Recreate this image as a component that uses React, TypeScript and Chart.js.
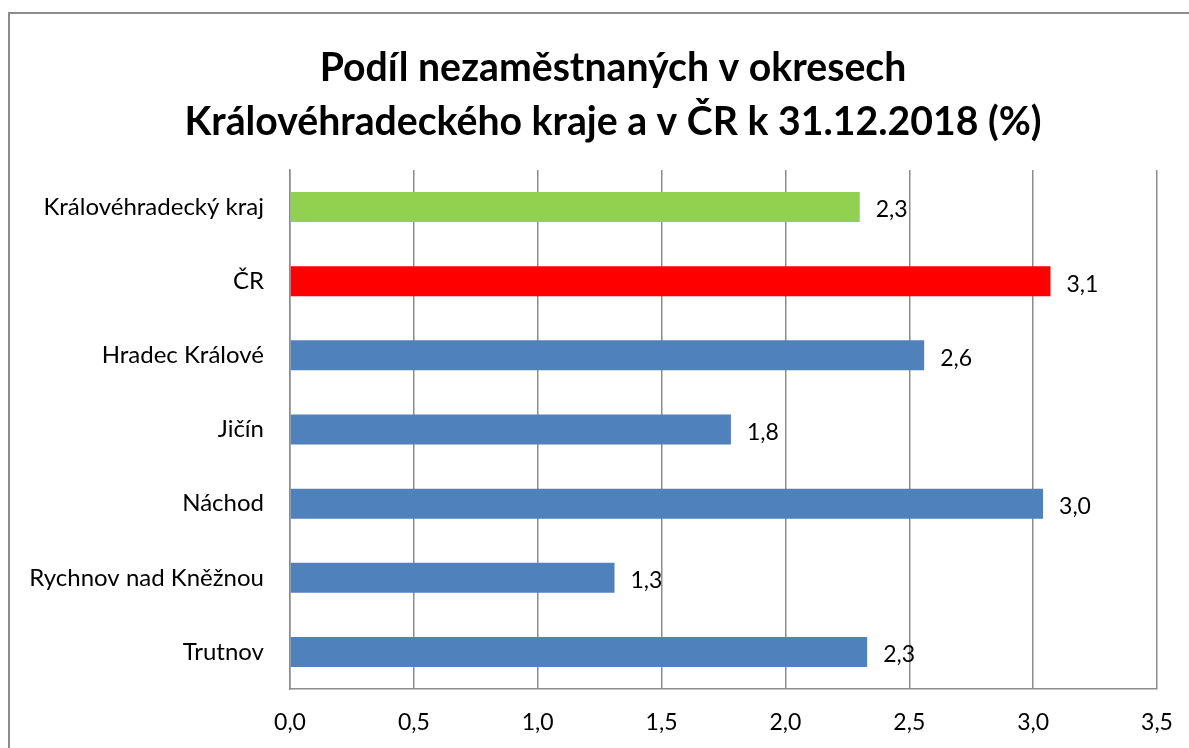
import React, { useEffect, useRef } from "react";
import { Chart, registerables } from "chart.js";

Chart.register(...registerables);

const titleLines = ["Podíl nezaměstnaných v okresech", "Královéhradeckého kraje a v ČR k 31.12.2018 (%)"];
const categories = [
  "Královéhradecký kraj",
  "ČR",
  "Hradec Králové",
  "Jičín",
  "Náchod",
  "Rychnov nad Kněžnou",
  "Trutnov",
];
const values = [2.3, 3.07, 2.56, 1.78, 3.04, 1.31, 2.33];
const barColors = ["#92D050", "#FF0000", "#4F81BD", "#4F81BD", "#4F81BD", "#4F81BD", "#4F81BD"];
const xMin = 0;
const xMax = 3.5;
const xStep = 0.5;

const FONT = "Lato, 'Open Sans', sans-serif";
const fmt = (v: number) => v.toFixed(1).replace(".", ",");

const titlePlugin = {
  id: "customTitle",
  afterDraw(chart: any) {
    const ctx = chart.ctx;
    ctx.save();
    ctx.fillStyle = "#000";
    ctx.font = `bold 39.2px ${FONT}`;
    ctx.textAlign = "center";
    ctx.textBaseline = "middle";
    ctx.fillText(titleLines[0], 613, 68);
    ctx.fillText(titleLines[1], 613, 122);
    ctx.restore();
  },
};

const labelPlugin = {
  id: "valueLabels",
  afterDatasetsDraw(chart: any) {
    const ctx = chart.ctx;
    const meta = chart.getDatasetMeta(0);
    ctx.save();
    ctx.fillStyle = "#000";
    ctx.font = `23px ${FONT}`;
    ctx.textAlign = "left";
    ctx.textBaseline = "middle";
    meta.data.forEach((bar: any, i: number) => {
      ctx.fillText(fmt(values[i]), bar.x + 16, bar.y + 3);
    });
    ctx.restore();
  },
};

export default function App() {
  const ref = useRef<HTMLCanvasElement | null>(null);
  useEffect(() => {
    if (!ref.current) return;
    const chart = new Chart(ref.current, {
      type: "bar",
      data: {
        labels: categories,
        datasets: [
          {
            data: values,
            backgroundColor: barColors,
            borderWidth: 0,
            categoryPercentage: 1,
            barPercentage: 0.405,
          },
        ],
      },
      options: {
        indexAxis: "y",
        responsive: false,
        animation: false,
        devicePixelRatio: 1,
        layout: { padding: { top: 170, right: 32, left: 0, bottom: 0 } },
        plugins: { legend: { display: false }, tooltip: { enabled: false }, title: { display: false } },
        scales: {
          x: {
            min: xMin,
            max: xMax,
            ticks: {
              stepSize: xStep,
              color: "#000",
              font: { family: FONT, size: 23 },
              padding: 20,
              callback: (v: any) => fmt(Number(v)),
            },
            grid: { color: "#8c8c8c", lineWidth: 1.5, drawTicks: false },
            border: { display: true, color: "#8c8c8c", width: 1.5 },
            afterFit: (s: any) => {
              s.height = 59;
              s.paddingLeft = 0;
              s.paddingRight = 0;
            },
          },
          y: {
            ticks: { color: "#000", font: { family: FONT, size: 24 }, padding: 26 },
            grid: { display: false, drawTicks: false },
            border: { display: true, color: "#8c8c8c", width: 1.5 },
            afterFit: (s: any) => {
              s.width = 290;
              s.paddingTop = 0;
              s.paddingBottom = 0;
            },
          },
        },
      },
      plugins: [titlePlugin, labelPlugin],
    });
    return () => chart.destroy();
  }, []);

  return (
    <div style={{ position: "fixed", left: 0, top: 0, width: 1189, height: 748, overflow: "hidden", background: "#fff" }}>
      <div
        style={{
          position: "absolute",
          left: 8,
          top: 12,
          width: 1400,
          height: 1000,
          border: "2px solid #8c8c8c",
          boxSizing: "border-box",
        }}
      />
      <canvas ref={ref} width={1189} height={748} style={{ position: "absolute", left: 0, top: 0, display: "block" }} />
    </div>
  );
}
